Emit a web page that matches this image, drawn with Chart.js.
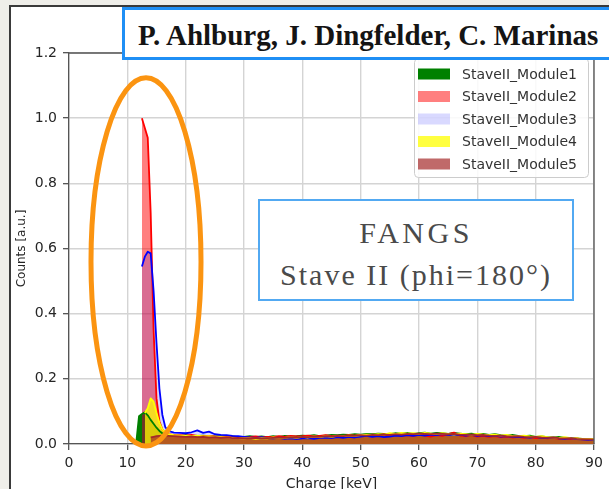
<!DOCTYPE html>
<html><head><meta charset="utf-8">
<script src="https://cdn.jsdelivr.net/npm/chart.js@4.4.0/dist/chart.umd.min.js"></script>
<style>
html,body{margin:0;padding:0;width:609px;height:489px;overflow:hidden;background:#efeee9;}
#panel{position:absolute;left:9px;top:5px;width:640px;height:520px;background:#fff;border:2px solid #3a3a3a;box-sizing:border-box;}
#c{position:absolute;left:0;top:0;}
.box{position:absolute;background:#fff;box-sizing:border-box;}
#authors{left:122px;top:7px;width:520px;height:53px;border:3px solid #1f8ff5;}
#fangs{left:258px;top:199px;width:316px;height:102px;border:2px solid #52a9f2;}
.txt{position:absolute;white-space:nowrap;font-family:"Liberation Serif",serif;}
#authText{left:138px;top:21px;font-size:29px;line-height:29px;font-weight:bold;color:#141414;}
#l1,#l2{left:259px;width:314px;text-align:center;font-size:30px;line-height:30px;color:#4a4a4a;letter-spacing:2px;}
#l1{top:218px;letter-spacing:3.5px;}
#l2{top:260px}
</style></head>
<body>
<div id="panel"></div>
<canvas id="c" width="609" height="493"></canvas>
<div class="box" id="authors"></div>
<div class="txt" id="authText">P. Ahlburg, J. Dingfelder, C. Marinas</div>
<div class="box" id="fangs"></div>
<div class="txt" id="l1">FANGS</div>
<div class="txt" id="l2">Stave II (phi=180°)</div>
<script>
// Charge bins [keV]
const charge = [11.5,12,12.5,13,13.5,14,14.5,15,15.5,16,16.5,17,
 18,19,20,21,22,23,24,25,26,27,
 28,29,30,31,32,33,34,35,36,37,
 38,39,40,41,42,43,44,45,46,47,
 48,49,50,51,52,53,54,55,56,57,
 58,59,60,61,62,63,64,65,66,67,
 68,69,70,71,72,73,74,75,76,77,
 78,79,80,81,82,83,84,85,86,87,
 88,89,90];

const seriesNames = ['StaveII_Module1','StaveII_Module2','StaveII_Module3','StaveII_Module4','StaveII_Module5'];

const module1 = [0.0,0.085,0.092,0.097,0.088,0.074,0.062,0.05,0.04,0.033,0.029,0.027,
 0.026,0.025,0.027,0.024,0.025,0.026,0.024,0.023,0.024,0.022,
 0.023,0.021,0.022,0.024,0.022,0.023,0.021,0.024,0.022,0.025,
 0.023,0.024,0.026,0.025,0.027,0.024,0.026,0.028,0.027,0.029,
 0.028,0.030,0.029,0.031,0.030,0.032,0.031,0.030,0.033,0.032,
 0.034,0.031,0.033,0.035,0.032,0.034,0.033,0.031,0.034,0.032,
 0.030,0.032,0.029,0.031,0.028,0.030,0.027,0.026,0.028,0.025,
 0.024,0.026,0.022,0.023,0.021,0.020,0.022,0.019,0.018,0.017,
 0.016,0.015,0.014];

const module2 = [null,null,1.0,0.97,0.94,0.71,0.35,0.14,0.07,0.045,0.035,0.03,
 0.028,0.027,0.026,0.028,0.025,0.024,0.025,0.023,0.022,0.023,
 0.021,0.022,0.020,0.021,0.023,0.020,0.022,0.021,0.024,0.022,
 0.025,0.023,0.024,0.026,0.023,0.025,0.027,0.024,0.026,0.025,
 0.027,0.026,0.028,0.025,0.029,0.027,0.030,0.026,0.028,0.025,
 0.027,0.024,0.029,0.026,0.023,0.027,0.025,0.030,0.035,0.026,
 0.024,0.027,0.023,0.025,0.022,0.024,0.021,0.023,0.020,0.022,
 0.019,0.021,0.018,0.020,0.017,0.019,0.016,0.018,0.015,0.017,
 0.014,0.015,0.013];

const module3 = [null,null,0.545,0.575,0.59,0.585,0.47,0.31,0.17,0.09,0.052,0.04,
 0.035,0.034,0.033,0.036,0.042,0.034,0.038,0.030,0.028,0.027,
 0.025,0.024,0.022,0.020,0.019,0.021,0.018,0.017,0.019,0.016,
 0.017,0.015,0.017,0.018,0.016,0.019,0.020,0.018,0.021,0.019,
 0.022,0.020,0.023,0.025,0.022,0.024,0.021,0.023,0.026,0.024,
 0.027,0.025,0.028,0.026,0.029,0.027,0.030,0.028,0.027,0.029,
 0.026,0.028,0.025,0.027,0.024,0.026,0.023,0.024,0.022,0.023,
 0.021,0.020,0.022,0.019,0.018,0.020,0.017,0.016,0.018,0.015,
 0.014,0.013,0.012];

const module4 = [null,null,null,0.095,0.11,0.14,0.13,0.095,0.065,0.045,0.036,0.03,
 0.027,0.026,0.025,0.024,0.026,0.023,0.024,0.022,0.021,0.020,
 0.019,0.018,0.017,0.019,0.016,0.018,0.017,0.020,0.018,0.019,
 0.021,0.019,0.022,0.020,0.023,0.021,0.024,0.022,0.025,0.024,
 0.026,0.025,0.027,0.029,0.028,0.030,0.029,0.033,0.031,0.034,
 0.032,0.033,0.031,0.034,0.032,0.030,0.033,0.031,0.029,0.032,
 0.030,0.028,0.031,0.029,0.027,0.029,0.026,0.028,0.025,0.024,
 0.026,0.023,0.022,0.024,0.021,0.020,0.019,0.021,0.018,0.017,
 0.016,0.015,0.014];

const module5 = [null,null,null,null,null,0.02,0.022,0.024,0.025,0.026,0.026,0.025,
 0.024,0.023,0.022,0.023,0.021,0.022,0.020,0.021,0.019,0.020,
 0.018,0.019,0.017,0.018,0.019,0.017,0.018,0.019,0.020,0.019,
 0.021,0.020,0.022,0.021,0.023,0.022,0.024,0.023,0.025,0.024,
 0.026,0.025,0.027,0.026,0.028,0.027,0.029,0.028,0.030,0.029,
 0.031,0.030,0.032,0.031,0.030,0.032,0.031,0.030,0.031,0.029,
 0.028,0.029,0.027,0.028,0.026,0.025,0.026,0.024,0.023,0.024,
 0.022,0.021,0.022,0.020,0.019,0.020,0.018,0.017,0.018,0.016,
 0.015,0.014,0.013];

const xTicksStep = 10;
const yTicksStep = 0.2;

const lineColors = ['#008000','#ff0000','#0000ff','#ffff00','#a52a2a'];
const fillColors = ['rgba(0,128,0,1)','rgba(255,0,0,0.5)','rgba(0,0,255,0.15)','rgba(255,255,0,0.75)','rgba(165,42,42,0.7)'];
const allSeries = [module1,module2,module3,module4,module5];

const toPoints = vals => charge.map((c,i)=>({x:c,y:vals[i]}));

const datasets = allSeries.map((vals,i)=>({
  label: seriesNames[i],
  data: toPoints(vals),
  borderColor: lineColors[i],
  backgroundColor: fillColors[i],
  fill: 'origin',
  order: allSeries.length - i,
  borderWidth: 1.8,
  pointRadius: 0,
  tension: 0,
  borderJoinStyle: 'round'
}));

const annot = {
  id: 'annot',
  afterDatasetsDraw(chart){
    const {ctx, chartArea:a, scales:{x,y}} = chart;
    ctx.save();
    // top and right spines
    ctx.strokeStyle = '#555'; ctx.lineWidth = 1.3;
    ctx.beginPath(); ctx.moveTo(a.left, a.top); ctx.lineTo(a.right, a.top); ctx.lineTo(a.right, a.bottom); ctx.stroke();
    // highlight ellipse around peak
    const cx = x.getPixelForValue(13.2), cy = y.getPixelForValue(0.559);
    const rx = x.getPixelForValue(13.2 + 9.43) - cx;
    const ry = cy - y.getPixelForValue(0.559 + 0.565);
    ctx.strokeStyle = '#fb9411'; ctx.lineWidth = 5;
    ctx.beginPath(); ctx.ellipse(cx, cy, rx, ry, 0, 0, Math.PI*2); ctx.stroke();
    // legend (matplotlib style, upper right)
    const lx = 414, ly = 58, lw = 174, lh = 119;
    ctx.fillStyle = 'rgba(255,255,255,0.85)'; ctx.strokeStyle = '#cccccc'; ctx.lineWidth = 1;
    ctx.beginPath(); ctx.roundRect(lx+0.5, ly+0.5, lw, lh, 4); ctx.fill(); ctx.stroke();
    ctx.font = '14px "DejaVu Sans"'; ctx.textBaseline = 'middle'; ctx.textAlign = 'left';
    chart.data.datasets.forEach((ds, i) => {
      const yy = 74 + i*22.5;
      ctx.fillStyle = ds.backgroundColor;
      ctx.fillRect(418, yy-5.5, 32, 11);
      ctx.fillStyle = '#333';
      ctx.fillText(ds.label, 462, yy+1);
    });
    ctx.restore();
  }
};

new Chart(document.getElementById('c'), {
  type: 'line',
  data: { datasets },
  plugins: [annot],
  options: {
    responsive: false, animation: false, devicePixelRatio: 1,
    layout: { padding: { left: 0, right: 15, top: 53, bottom: 0 } },
    plugins: { legend: { display: false }, tooltip: { enabled: false }, filler: { drawTime: 'beforeDatasetsDraw' } },
    scales: {
      x: {
        type: 'linear', min: 0, max: 90,
        afterFit(s){ s.height = 49; },
        ticks: { stepSize: xTicksStep, font: { family: 'DejaVu Sans', size: 14 }, color: '#262626', padding: 5, maxRotation: 0 },
        grid: { color: '#d4d4d4', lineWidth: 1.4, tickLength: 6, tickColor: '#444', tickWidth: 1.2 },
        border: { color: '#555', width: 1.3 },
        title: { display: true, text: 'Charge [keV]', font: { family: 'DejaVu Sans', size: 14 }, color: '#262626', padding: { top: 0, bottom: 0 } }
      },
      y: {
        min: 0, max: 1.2,
        afterFit(s){ s.width = 69; },
        ticks: { stepSize: yTicksStep, callback: v => v.toFixed(1), font: { family: 'DejaVu Sans', size: 14 }, color: '#262626', padding: 6 },
        grid: { color: '#d4d4d4', lineWidth: 1.4, tickLength: 6, tickColor: '#444', tickWidth: 1.2 },
        border: { color: '#555', width: 1.3 },
        title: { display: true, text: 'Counts [a.u.]', font: { family: 'DejaVu Sans', size: 12 }, color: '#262626', padding: { top: 15, bottom: 0 } }
      }
    }
  }
});
</script>
</body></html>
